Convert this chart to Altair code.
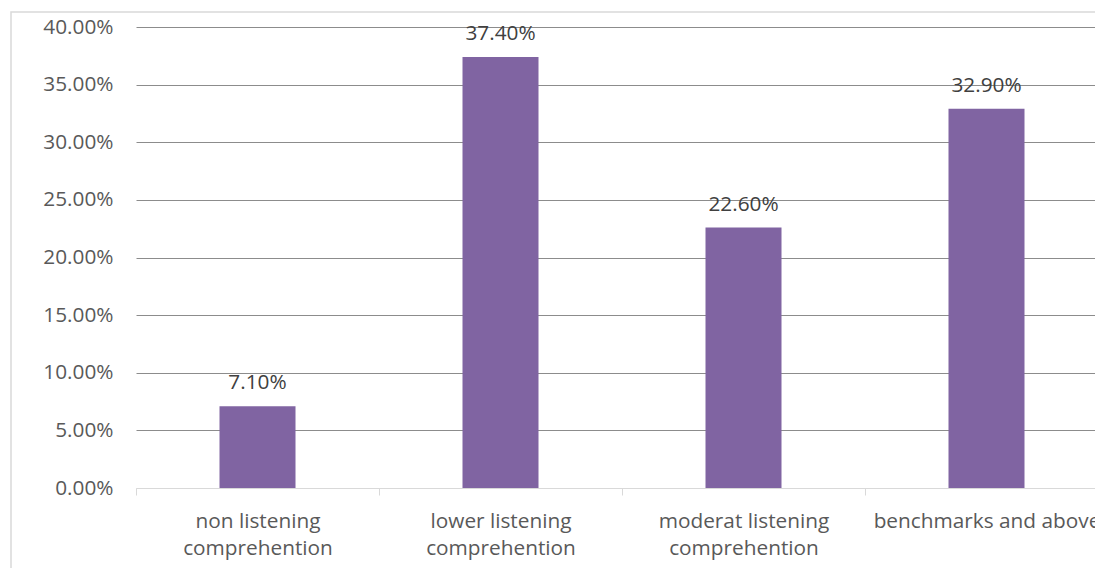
import altair as alt
import pandas as pd

# Listening comprehension levels and the share of learners in each
categories = [
    "non listening\ncomprehention",
    "lower listening\ncomprehention",
    "moderat listening\ncomprehention",
    "benchmarks and above",
]
shares = [0.071, 0.374, 0.226, 0.329]
y_ticks = [0.0, 0.05, 0.10, 0.15, 0.20, 0.25, 0.30, 0.35, 0.40]

df = pd.DataFrame({"level": categories, "share": shares})

FONT = "Open Sans"
SIZE = 20.8
BAR = "#8064A2"
GRID = "#8C8C8C"
LIGHT = "#D9D9D9"

x_enc = alt.X(
    "level:N",
    sort=categories,
    title=None,
    scale=alt.Scale(range=[0, 972], paddingInner=0, paddingOuter=0),
    axis=alt.Axis(
        labelAngle=0,
        labelExpr="split(datum.label, '\\n')",
        labelFont=FONT,
        labelFontSize=SIZE,
        labelColor="#595959",
        labelLineHeight=27,
        labelBaseline="alphabetic",
        labelPadding=32,
        labelLimit=400,
        domainColor=LIGHT,
        tickColor=LIGHT,
        tickSize=7,
        tickBand="extent",
        grid=False,
        zindex=1,
    ),
)

y_enc = alt.Y(
    "share:Q",
    title=None,
    scale=alt.Scale(domain=[0, 0.4], nice=False),
    axis=alt.Axis(
        values=y_ticks,
        format=".2%",
        labelFont=FONT,
        labelFontSize=SIZE,
        labelColor="#595959",
        labelPadding=23,
        ticks=False,
        domain=False,
        gridColor={"condition": {"test": "datum.value === 0", "value": LIGHT}, "value": GRID},
        gridWidth=1,
    ),
)

bars = alt.Chart(df).mark_bar(size=76, color=BAR).encode(x=x_enc, y=y_enc)

labels = alt.Chart(df).mark_text(
    baseline="alphabetic",
    dy=-17,
    font=FONT,
    fontSize=SIZE,
    color="#404040",
).encode(x=x_enc, y=y_enc, text=alt.Text("share:Q", format=".2%"))

# light outer border of the chart area
frame = alt.Chart(pd.DataFrame({"k": [0]})).mark_rect(
    fill="transparent", stroke=LIGHT, strokeWidth=1.5
).encode(
    x=alt.value(-125), x2=alt.value(1100), y=alt.value(-15), y2=alt.value(600)
)

chart = (
    alt.layer(frame, bars, labels)
    .properties(
        width=959,
        height=461,
        autosize=alt.AutoSizeParams(type="none"),
        padding={"left": 136, "top": 27, "right": 0, "bottom": 80},
        background="white",
    )
    .configure_view(stroke=None)
)

chart.save("out.html", embed_options={"renderer": "svg", "actions": False})
